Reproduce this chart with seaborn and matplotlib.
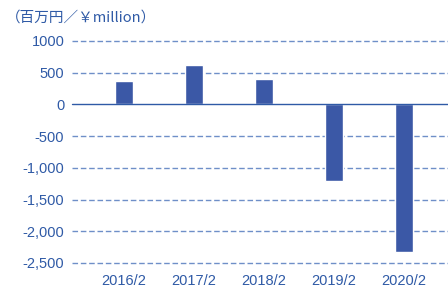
import matplotlib
matplotlib.use("Agg")
import matplotlib.pyplot as plt
import seaborn as sns
import pandas as pd

years = ["2016/2", "2017/2", "2018/2", "2019/2", "2020/2"]
profit = [365, 615, 395, -1215, -2330]
yticks = [1000, 500, 0, -500, -1000, -1500, -2000, -2500]
ytick_labels = ["1000", "500", "0", "-500", "-1,000", "-1,500", "-2,000", "-2,500"]

bar_color = "#3b58a6"
text_color = "#2f5aa6"
grid_color = "#6f8fc8"

sns.set_style("white")
plt.rcParams['font.family'] = ['Liberation Sans', 'Noto Sans CJK JP', 'DejaVu Sans']

df = pd.DataFrame({"year": years, "profit": profit})

fig = plt.figure(figsize=(4.48, 2.88), dpi=100)
ax = fig.add_axes([72 / 448, 25 / 288, 376 / 448, 222 / 288])

for v in yticks:
    if v == 0:
        continue
    ax.axhline(v, color=grid_color, lw=1.0, ls=(0, (4, 2)), zorder=0, clip_on=False)

sns.barplot(data=df, x="year", y="profit", color=bar_color, saturation=1,
            width=0.26, ax=ax, zorder=2)
ax.axhline(0, color=text_color, lw=1.0, zorder=3, clip_on=False)

ax.set_xlim(-0.74, 4.63)
ax.set_ylim(-2500, 1000)
ax.set_yticks(yticks)
ax.set_yticklabels(ytick_labels)
ax.set_xlabel("")
ax.set_ylabel("")
ax.tick_params(axis="y", length=0, pad=5.5, labelsize=10.5, labelcolor=text_color)
ax.tick_params(axis="x", length=0, pad=8, labelsize=10.5, labelcolor=text_color)
sns.despine(ax=ax, left=True, bottom=True, top=True, right=True)

fig.text(6 / 448, 1 - 18 / 288, "（百万円／￥million）", fontsize=10.5, color=text_color,
         va="center", ha="left", family=['Noto Sans CJK JP', 'DejaVu Sans'])

fig.savefig("out.png", dpi=100)
